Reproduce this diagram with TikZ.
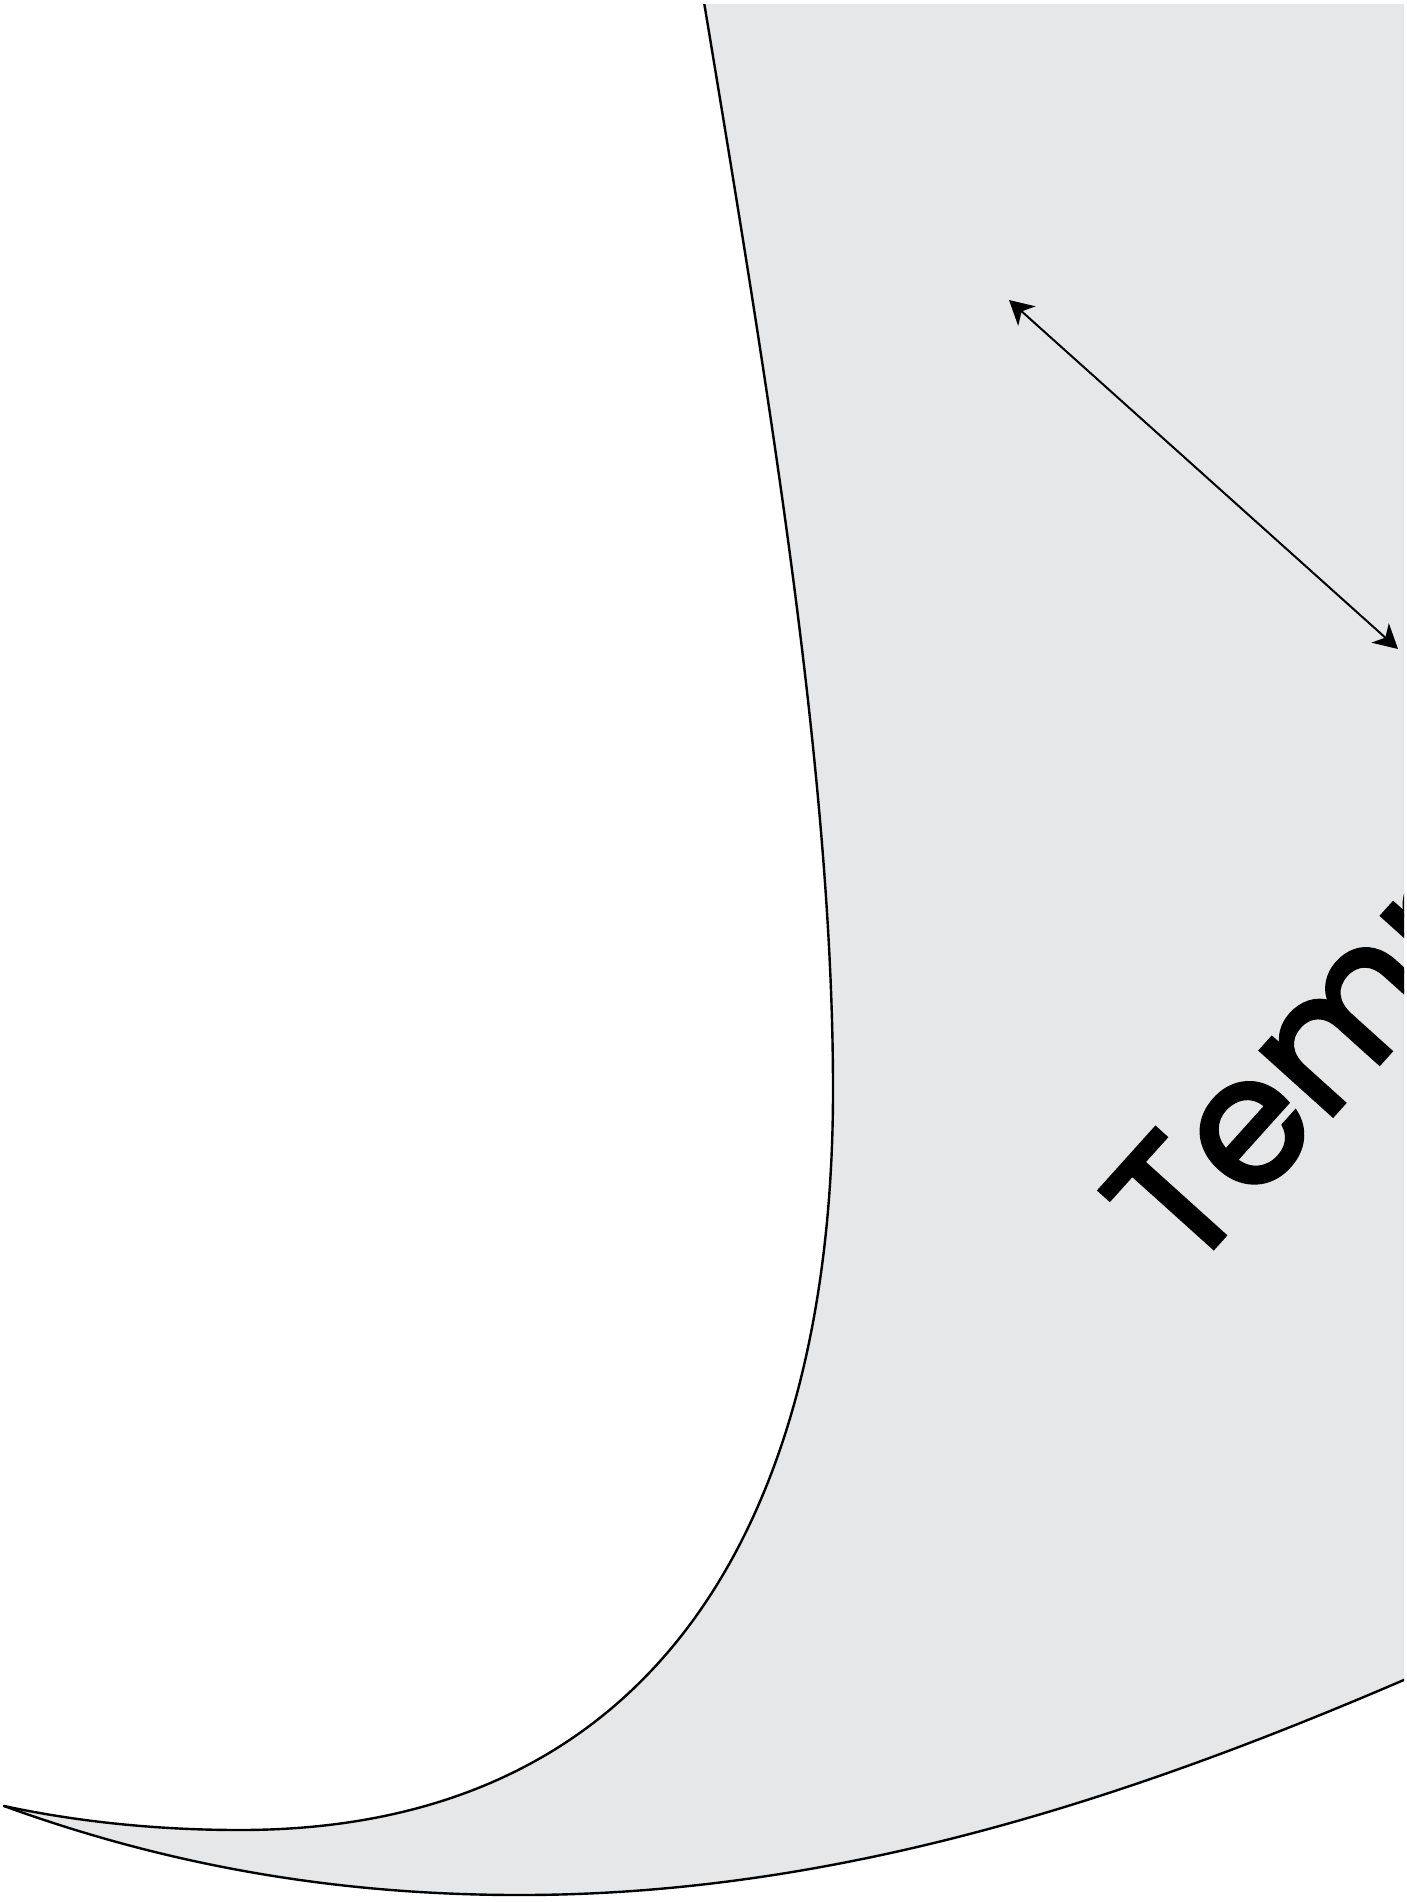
\documentclass[tikz,border=0pt]{standalone}
\usepackage{fontspec}
\newfontfamily\labelfont[FakeBold=2.5]{Poppins}
\usetikzlibrary{arrows.meta}
\definecolor{regiongray}{HTML}{E6E7E9}
\tikzset{
  outline/.style={draw=black, line width=2.4pt, line cap=round},
  dimarrow/.style={draw=black, line width=2pt, {Stealth[length=24pt,width=26pt,inset=7pt]}-{Stealth[length=24pt,width=26pt,inset=7pt]}},
  biglabel/.style={font=\labelfont\fontsize{176}{176}\selectfont, inner sep=0pt, anchor=base west, rotate=48}
}
\begin{document}
\begin{tikzpicture}[x=1pt,y=-1pt]
\useasboundingbox (0,0) rectangle (1407,1902);
\fill[white] (0,0) rectangle (1407,1902);
\begin{scope}
\clip (0,5) rectangle (1404,1902);
\fill[regiongray] (702,-10) .. controls (770,400) and (833,780) .. (833,1090)
  .. controls (833,1500) and (670,1830) .. (240,1830)
  .. controls (140,1830) and (60,1818) .. (4,1806)
  .. controls (180,1870) and (350,1895) .. (520,1895)
  .. controls (850,1895) and (1150,1790) .. (1420,1673)
  -- (1420,-10) -- cycle;
\draw[outline] (702,-10) .. controls (770,400) and (833,780) .. (833,1090)
  .. controls (833,1500) and (670,1830) .. (240,1830)
  .. controls (140,1830) and (60,1818) .. (4,1806);
\draw[outline] (4,1806) .. controls (180,1870) and (350,1895) .. (520,1895)
  .. controls (850,1895) and (1150,1790) .. (1420,1673);
\node[biglabel] (lbl) at (1187,1277) {Temperature};
\coordinate (aA) at (1009,300);
\coordinate (aB) at (1398,649);
\draw[dimarrow] (aA) -- (aB);
\end{scope}
\end{tikzpicture}
\end{document}
